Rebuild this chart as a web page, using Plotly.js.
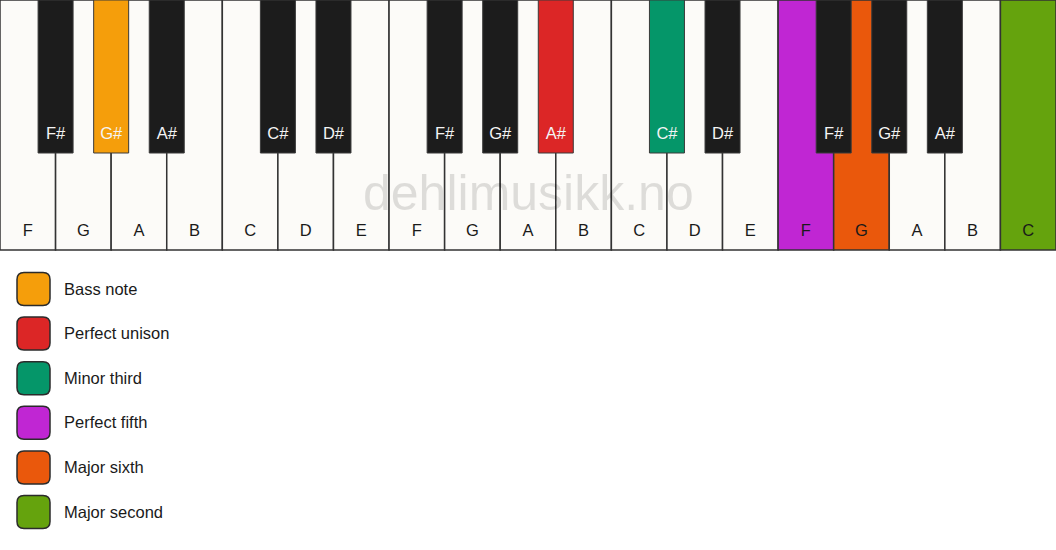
<!DOCTYPE html>
<html>
<head>
<meta charset="utf-8">
<script src="https://cdn.plot.ly/plotly-3.0.1.min.js"></script>
<style>
  html, body { margin: 0; padding: 0; background: #fff; }
  #chart { width: 1056px; height: 550px; }
</style>
</head>
<body>
<div id="chart"></div>
<script>
// keyboard data: white keys left to right, black keys by the white-key gap they sit on
var whiteNotes = ['F','G','A','B','C','D','E','F','G','A','B','C','D','E','F','G','A','B','C'];
var whiteRoles = ['','','','','','','','','','','','','','','Perfect fifth','Major sixth','','','Major second'];
var blackNotes = ['F#','G#','A#','C#','D#','F#','G#','A#','C#','D#','F#','G#','A#'];
var blackGaps  = [1, 2, 3, 5, 6, 8, 9, 10, 12, 13, 15, 16, 17];
var blackRoles = ['','Bass note','','','','','','Perfect unison','Minor third','','','',''];

// legend
var legendNames  = ['Bass note','Perfect unison','Minor third','Perfect fifth','Major sixth','Major second'];
var legendColors = ['#f59e0b','#dc2626','#059669','#c026d3','#ea580c','#65a30d'];

var W = 1056, H = 550;
var kw = W / whiteNotes.length;   // white key width
var bw = 35;                      // black key width
var whiteH = 250, blackH = 153;
var font = 'Liberation Sans, Arial, sans-serif';

function roleColor(role, fallback) {
  var i = legendNames.indexOf(role);
  return i < 0 ? fallback : legendColors[i];
}

var whiteX = whiteNotes.map(function (n, i) { return (i + 0.5) * kw; });
var blackX = blackGaps.map(function (g) { return g * kw; });

var whiteKeys = {
  type: 'bar',
  x: whiteX,
  y: whiteNotes.map(function () { return whiteH; }),
  base: 0,
  width: kw,
  marker: {
    color: whiteRoles.map(function (r) { return roleColor(r, '#fcfbf8'); }),
    line: { color: '#333333', width: 1.5 }
  },
  hoverinfo: 'skip'
};

var blackKeys = {
  type: 'bar',
  x: blackX,
  y: blackNotes.map(function () { return blackH; }),
  base: 0,
  width: bw,
  marker: {
    color: blackRoles.map(function (r) { return roleColor(r, '#1c1c1c'); }),
    line: { color: '#3a3a3a', width: 1 }
  },
  hoverinfo: 'skip'
};

var whiteLabels = {
  type: 'scatter',
  mode: 'text',
  x: whiteX,
  y: whiteNotes.map(function () { return 232; }),
  text: whiteNotes,
  textfont: { family: font, size: 16.5, color: '#1a1a1a' },
  hoverinfo: 'skip'
};

var blackLabels = {
  type: 'scatter',
  mode: 'text',
  x: blackX,
  y: blackNotes.map(function () { return 135; }),
  text: blackNotes,
  textfont: { family: font, size: 16.5, color: '#f4f4f4' },
  hoverinfo: 'skip'
};

var rowY = legendNames.map(function (n, i) { return 289 + i * 44.6; });

var legendLabels = {
  type: 'scatter',
  mode: 'text',
  x: legendNames.map(function () { return 64; }),
  y: rowY.map(function (y) { return y + 1.5; }),
  text: legendNames,
  textposition: 'middle right',
  textfont: { family: font, size: 16.5, color: '#1a1a1a' },
  hoverinfo: 'skip'
};

// rounded swatches built from the legend rows
function roundRect(x0, y0, x1, y1, r) {
  return 'M' + (x0 + r) + ',' + y0 + ' L' + (x1 - r) + ',' + y0 +
    ' Q' + x1 + ',' + y0 + ' ' + x1 + ',' + (y0 + r) +
    ' L' + x1 + ',' + (y1 - r) + ' Q' + x1 + ',' + y1 + ' ' + (x1 - r) + ',' + y1 +
    ' L' + (x0 + r) + ',' + y1 + ' Q' + x0 + ',' + y1 + ' ' + x0 + ',' + (y1 - r) +
    ' L' + x0 + ',' + (y0 + r) + ' Q' + x0 + ',' + y0 + ' ' + (x0 + r) + ',' + y0 + ' Z';
}

var shapes = rowY.map(function (y, i) {
  return {
    type: 'path', xref: 'x', yref: 'y',
    path: roundRect(17, y - 16.5, 50, y + 16.5, 7),
    fillcolor: legendColors[i],
    line: { color: '#2b2b2b', width: 1.5 }
  };
});

var layout = {
  width: W, height: H,
  margin: { l: 0, r: 0, t: 0, b: 0 },
  paper_bgcolor: '#ffffff',
  plot_bgcolor: '#ffffff',
  barmode: 'overlay',
  showlegend: false,
  xaxis: { range: [0, W], visible: false, fixedrange: true },
  yaxis: { range: [H, 0], visible: false, fixedrange: true },
  shapes: shapes,
  annotations: [{
    x: W / 2, y: 193, xref: 'x', yref: 'y',
    text: 'dehlimusikk.no', showarrow: false,
    font: { family: font, size: 50, color: 'rgba(0,0,0,0.12)' }
  }]
};

Plotly.newPlot('chart', [whiteKeys, blackKeys, whiteLabels, blackLabels, legendLabels], layout,
  { displayModeBar: false, staticPlot: true });
</script>
</body>
</html>
